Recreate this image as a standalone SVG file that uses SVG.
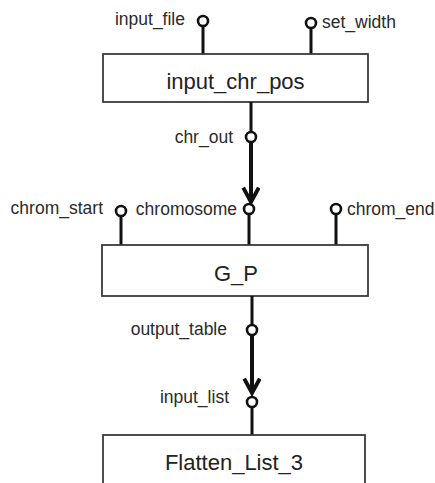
<svg xmlns="http://www.w3.org/2000/svg" width="435" height="483" viewBox="0 0 435 483">
  <defs>
    <style>
      .box { fill: #ffffff; stroke: #3a3a3a; stroke-width: 1.8; }
      .title { font-family: "Liberation Sans", Arial, sans-serif; font-size: 22px; fill: #222222; text-anchor: middle; }
      .lbl { font-family: "Liberation Sans", Arial, sans-serif; font-size: 17.5px; fill: #2a2a2a; }
      .end { text-anchor: end; }
      .stub { stroke: #111111; stroke-width: 3; fill: none; }
      .port { fill: #ffffff; stroke: #111111; stroke-width: 2.6; }
      .conn { stroke: #111111; stroke-width: 4; fill: none; }
    </style>
    <marker id="chev" markerUnits="userSpaceOnUse" markerWidth="20" markerHeight="20" viewBox="-1 -1 18 18" refX="13" refY="7" orient="auto">
      <path d="M0,0 L13,7 L0,14" fill="none" stroke="#111111" stroke-width="3.5" stroke-linejoin="miter"/>
    </marker>
  </defs>
  <rect width="435" height="483" fill="#ffffff"/>

  <g id="input_chr_pos">
    <line class="stub" x1="203" y1="26" x2="203" y2="54"/>
    <circle class="port" cx="203" cy="21" r="5"/>
    <text class="lbl end" x="185" y="25">input_file</text>
    <line class="stub" x1="311" y1="28" x2="311" y2="54"/>
    <circle class="port" cx="311" cy="23" r="5"/>
    <text class="lbl" x="322" y="28">set_width</text>
    <rect class="box" x="103" y="54" width="265" height="48"/>
    <text class="title" x="235.5" y="89">input_chr_pos</text>
    <line class="stub" x1="251" y1="102" x2="251" y2="132"/>
    <circle class="port" cx="251" cy="137" r="5"/>
    <text class="lbl end" x="233" y="143">chr_out</text>
  </g>

  <g id="G_P">
    <line class="stub" x1="121" y1="216" x2="121" y2="245"/>
    <circle class="port" cx="121" cy="211" r="5"/>
    <text class="lbl end" x="103" y="214">chrom_start</text>
    <line class="stub" x1="249" y1="214" x2="249" y2="245"/>
    <circle class="port" cx="249" cy="209" r="5"/>
    <text class="lbl end" x="237" y="215">chromosome</text>
    <line class="stub" x1="336" y1="214" x2="336" y2="245"/>
    <circle class="port" cx="336" cy="209" r="5"/>
    <text class="lbl" x="347" y="215">chrom_end</text>
    <rect class="box" x="102" y="245" width="266" height="51"/>
    <text class="title" x="236" y="281">G_P</text>
    <line class="stub" x1="252" y1="296" x2="252" y2="325"/>
    <circle class="port" cx="252" cy="330" r="5"/>
    <text class="lbl end" x="227" y="335">output_table</text>
  </g>

  <g id="Flatten_List_3">
    <line class="stub" x1="252" y1="407" x2="252" y2="435"/>
    <circle class="port" cx="252" cy="402" r="5"/>
    <text class="lbl end" x="229" y="403">input_list</text>
    <rect class="box" x="103" y="435" width="262" height="60"/>
    <text class="title" x="234" y="470">Flatten_List_3</text>
  </g>

  <g id="connectors">
    <line class="conn" x1="251" y1="142" x2="251" y2="202" marker-end="url(#chev)"/>
    <line class="conn" x1="252" y1="335" x2="252" y2="393" marker-end="url(#chev)"/>
  </g>
</svg>
